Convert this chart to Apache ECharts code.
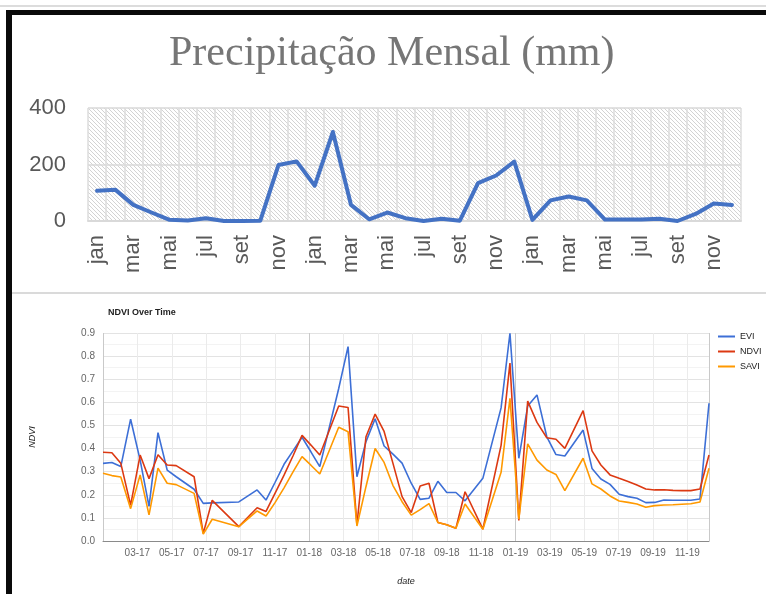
<!DOCTYPE html>
<html>
<head>
<meta charset="utf-8">
<script src="https://cdn.jsdelivr.net/npm/echarts@6/dist/echarts.min.js"></script>
<style>
    html, body { margin: 0; padding: 0; background: #fff; }
    #chart { width: 766px; height: 594px; }
</style>
</head>
<body>
<div id="chart"></div>
<script>
// ---- precipitação mensal (3 anos, mm) ----
const meses = ['jan', 'fev', 'mar', 'abr', 'mai', 'jun', 'jul', 'ago', 'set', 'out', 'nov', 'dez',
    'jan', 'fev', 'mar', 'abr', 'mai', 'jun', 'jul', 'ago', 'set', 'out', 'nov', 'dez',
    'jan', 'fev', 'mar', 'abr', 'mai', 'jun', 'jul', 'ago', 'set', 'out', 'nov', 'dez'];
const precip = [107, 111, 57, 30, 4, 2, 10, 0, 0, 1, 198, 211,
    125, 315, 57, 6, 30, 10, 0, 8, 1, 134, 161, 210,
    4, 73, 87, 73, 5, 5, 5, 8, 0, 25, 62, 57];

// ---- NDVI over time ----
const dates = ['2017-01-01', '2017-01-17', '2017-02-02', '2017-02-18', '2017-03-06', '2017-03-22',
    '2017-04-07', '2017-04-23', '2017-05-09', '2017-06-10', '2017-06-26', '2017-07-12',
    '2017-08-29', '2017-09-30', '2017-10-16', '2017-11-01', '2017-11-17', '2017-12-03',
    '2017-12-19', '2018-01-04', '2018-01-20', '2018-02-21', '2018-03-09', '2018-03-25',
    '2018-04-10', '2018-04-26', '2018-05-12', '2018-05-28', '2018-06-13', '2018-06-29',
    '2018-07-15', '2018-07-31', '2018-08-16', '2018-09-01', '2018-09-17', '2018-10-03',
    '2018-11-04', '2018-12-06', '2018-12-22', '2019-01-07', '2019-01-23', '2019-02-08',
    '2019-02-24', '2019-03-12', '2019-03-28', '2019-04-29', '2019-05-15', '2019-05-31',
    '2019-06-16', '2019-07-02', '2019-07-18', '2019-08-03', '2019-08-19', '2019-09-04',
    '2019-09-20', '2019-10-06', '2019-10-22', '2019-11-07', '2019-11-23', '2019-12-09'];
const evi = [0.336, 0.34, 0.322, 0.527, 0.35, 0.15,
    0.469, 0.307, 0.278, 0.224, 0.163, 0.165,
    0.169, 0.221, 0.177, 0.252, 0.332, 0.391,
    0.449, 0.386, 0.322, 0.66, 0.841, 0.278,
    0.43, 0.529, 0.411, 0.376, 0.337, 0.25,
    0.18, 0.185, 0.258, 0.21, 0.21, 0.174,
    0.271, 0.576, 0.899, 0.358, 0.584, 0.632,
    0.451, 0.374, 0.368, 0.48, 0.314, 0.268,
    0.245, 0.202, 0.192, 0.185, 0.166, 0.167,
    0.177, 0.176, 0.176, 0.176, 0.182, 0.596];
const ndvi = [0.384, 0.382, 0.336, 0.155, 0.372, 0.27,
    0.373, 0.329, 0.326, 0.278, 0.033, 0.176,
    0.062, 0.144, 0.128, 0.205, 0.285, 0.37,
    0.457, 0.415, 0.372, 0.584, 0.578, 0.07,
    0.451, 0.549, 0.474, 0.336, 0.192, 0.123,
    0.238, 0.25, 0.08, 0.07, 0.055, 0.213,
    0.051, 0.414, 0.77, 0.089, 0.605, 0.513,
    0.447, 0.44, 0.401, 0.564, 0.39, 0.329,
    0.286, 0.271, 0.257, 0.242, 0.225, 0.221,
    0.222, 0.219, 0.218, 0.218, 0.225, 0.372];
const savi = [0.293, 0.283, 0.277, 0.14, 0.286, 0.113,
    0.315, 0.25, 0.244, 0.206, 0.03, 0.094,
    0.062, 0.13, 0.108, 0.165, 0.23, 0.3,
    0.365, 0.328, 0.29, 0.492, 0.473, 0.065,
    0.235, 0.4, 0.34, 0.24, 0.17, 0.112,
    0.136, 0.162, 0.08, 0.07, 0.055, 0.16,
    0.051, 0.297, 0.617, 0.095, 0.42, 0.35,
    0.307, 0.288, 0.218, 0.358, 0.247, 0.225,
    0.195, 0.173, 0.167, 0.16, 0.146, 0.153,
    0.156, 0.157, 0.159, 0.161, 0.169, 0.315];

// meses desde jan/2017 (fracionário) -> eixo x
const toMonth = (s) => {
    const [y, m, d] = s.split('-').map(Number);
    const dim = new Date(y, m, 0).getDate();
    return (y - 2017) * 12 + (m - 1) + (d - 1) / dim;
};
const xMax = toMonth(dates[dates.length - 1]);
const pair = (arr) => dates.map((d, i) => [toMonth(d), arr[i]]);

// textura hachurada do fundo (excel)
const hatch = document.createElement('canvas');
hatch.width = 4;
hatch.height = 4;
const hctx = hatch.getContext('2d');
hctx.fillStyle = '#ffffff';
hctx.fillRect(0, 0, 4, 4);
hctx.fillStyle = '#d3d3d3';
for (let i = 0; i < 4; i++) hctx.fillRect(i, i, 1, 1);

const chart = echarts.init(document.getElementById('chart'));
const sans = 'Liberation Sans';

const option = {
    animation: false,
    backgroundColor: '#fff',
    title: [
        {
            text: 'Precipitação Mensal (mm)',
            left: 164,
            top: 28,
            textStyle: { fontFamily: 'Liberation Serif', fontSize: 42, fontWeight: 'normal', color: '#767676' }
        },
        {
            text: 'NDVI Over Time',
            left: 103,
            top: 303,
            textStyle: { fontFamily: sans, fontSize: 9, fontWeight: 'bold', color: '#222' }
        }
    ],
    legend: {
        orient: 'vertical',
        left: 718,
        top: 332,
        padding: 0,
        icon: 'rect',
        itemWidth: 17,
        itemHeight: 2,
        itemGap: 6,
        textStyle: { fontFamily: sans, fontSize: 9, color: '#222' },
        data: ['EVI', 'NDVI', 'SAVI']
    },
    grid: [
        {
            left: 88, top: 108, width: 653, height: 113,
            show: true,
            borderWidth: 0,
            backgroundColor: { image: hatch, repeat: 'repeat' }
        },
        { left: 103, top: 333, width: 606, height: 208 }
    ],
    xAxis: [
        {
            gridIndex: 0,
            type: 'category',
            data: meses,
            boundaryGap: true,
            axisLine: { lineStyle: { color: '#d9d9d9', width: 2 } },
            axisTick: { show: false },
            axisLabel: { interval: 1, rotate: 90, fontFamily: sans, fontSize: 22, color: '#595959', margin: 14 },
            splitLine: { show: true, interval: 0, lineStyle: { color: '#dcdcdc', width: 1.5 } }
        },
        {
            gridIndex: 1,
            type: 'value',
            min: 0,
            max: xMax,
            interval: 2,
            name: 'date',
            nameLocation: 'middle',
            nameGap: 36,
            nameTextStyle: { fontFamily: sans, fontSize: 9, fontStyle: 'italic', color: '#222' },
            axisLine: { show: true, lineStyle: { color: '#8a8a8a' } },
            axisTick: { show: false },
            axisLabel: {
                fontFamily: sans, fontSize: 10, color: '#666', margin: 7,
                showMinLabel: false, showMaxLabel: false,
                formatter: (v) => {
                    const m = Math.round(v);
                    const mm = String(m % 12 + 1).padStart(2, '0');
                    const yy = String(17 + Math.floor(m / 12));
                    return mm + '-' + yy;
                }
            },
            splitLine: {
                show: true,
                lineStyle: { color: ['#c9c9c9', '#ebebeb', '#ebebeb', '#ebebeb', '#ebebeb', '#ebebeb'] }
            }
        }
    ],
    yAxis: [
        {
            gridIndex: 0,
            type: 'value',
            min: 0,
            max: 400,
            interval: 200,
            axisLine: { show: false },
            axisTick: { show: false },
            axisLabel: { fontFamily: sans, fontSize: 22, color: '#595959', margin: 22 },
            splitLine: { show: true, lineStyle: { color: '#d9d9d9', width: 1.5 } }
        },
        {
            gridIndex: 1,
            type: 'value',
            min: 0,
            max: 0.9,
            interval: 0.1,
            name: 'NDVI',
            nameLocation: 'middle',
            nameGap: 66,
            nameTextStyle: { fontFamily: sans, fontSize: 9, fontStyle: 'italic', color: '#222' },
            axisLine: { show: false },
            axisTick: { show: false },
            axisLabel: { fontFamily: sans, fontSize: 10, color: '#666', margin: 8, formatter: (v) => v.toFixed(1) },
            splitLine: { show: true, lineStyle: { color: '#e3e3e3' } },
            minorTick: { show: false, splitNumber: 2 },
            minorSplitLine: { show: true, lineStyle: { color: '#f3f3f3' } }
        }
    ],
    series: [
        {
            name: 'Precipitação',
            type: 'line',
            xAxisIndex: 0,
            yAxisIndex: 0,
            data: precip,
            symbol: 'none',
            lineStyle: { color: '#4472c4', width: 4, join: 'round', cap: 'round' }
        },
        {
            name: 'EVI',
            type: 'line',
            xAxisIndex: 1,
            yAxisIndex: 1,
            data: pair(evi),
            symbol: 'none',
            itemStyle: { color: '#3d6fd6' },
            lineStyle: { color: '#3d6fd6', width: 1.6 }
        },
        {
            name: 'NDVI',
            type: 'line',
            xAxisIndex: 1,
            yAxisIndex: 1,
            data: pair(ndvi),
            symbol: 'none',
            itemStyle: { color: '#dc3912' },
            lineStyle: { color: '#dc3912', width: 1.6 }
        },
        {
            name: 'SAVI',
            type: 'line',
            xAxisIndex: 1,
            yAxisIndex: 1,
            data: pair(savi),
            symbol: 'none',
            itemStyle: { color: '#ff9900' },
            lineStyle: { color: '#ff9900', width: 1.6 }
        }
    ],
    // moldura da figura
    graphic: [
        { type: 'rect', shape: { x: 0, y: 5, width: 766, height: 2 }, style: { fill: '#dcdcdc' } },
        { type: 'rect', shape: { x: 6, y: 10, width: 760, height: 5 }, style: { fill: '#0a0a0a' } },
        { type: 'rect', shape: { x: 6, y: 10, width: 6, height: 584 }, style: { fill: '#0a0a0a' } },
        { type: 'rect', shape: { x: 12, y: 292, width: 754, height: 2 }, style: { fill: '#dadada' } }
    ]
};

chart.setOption(option);
</script>
</body>
</html>
